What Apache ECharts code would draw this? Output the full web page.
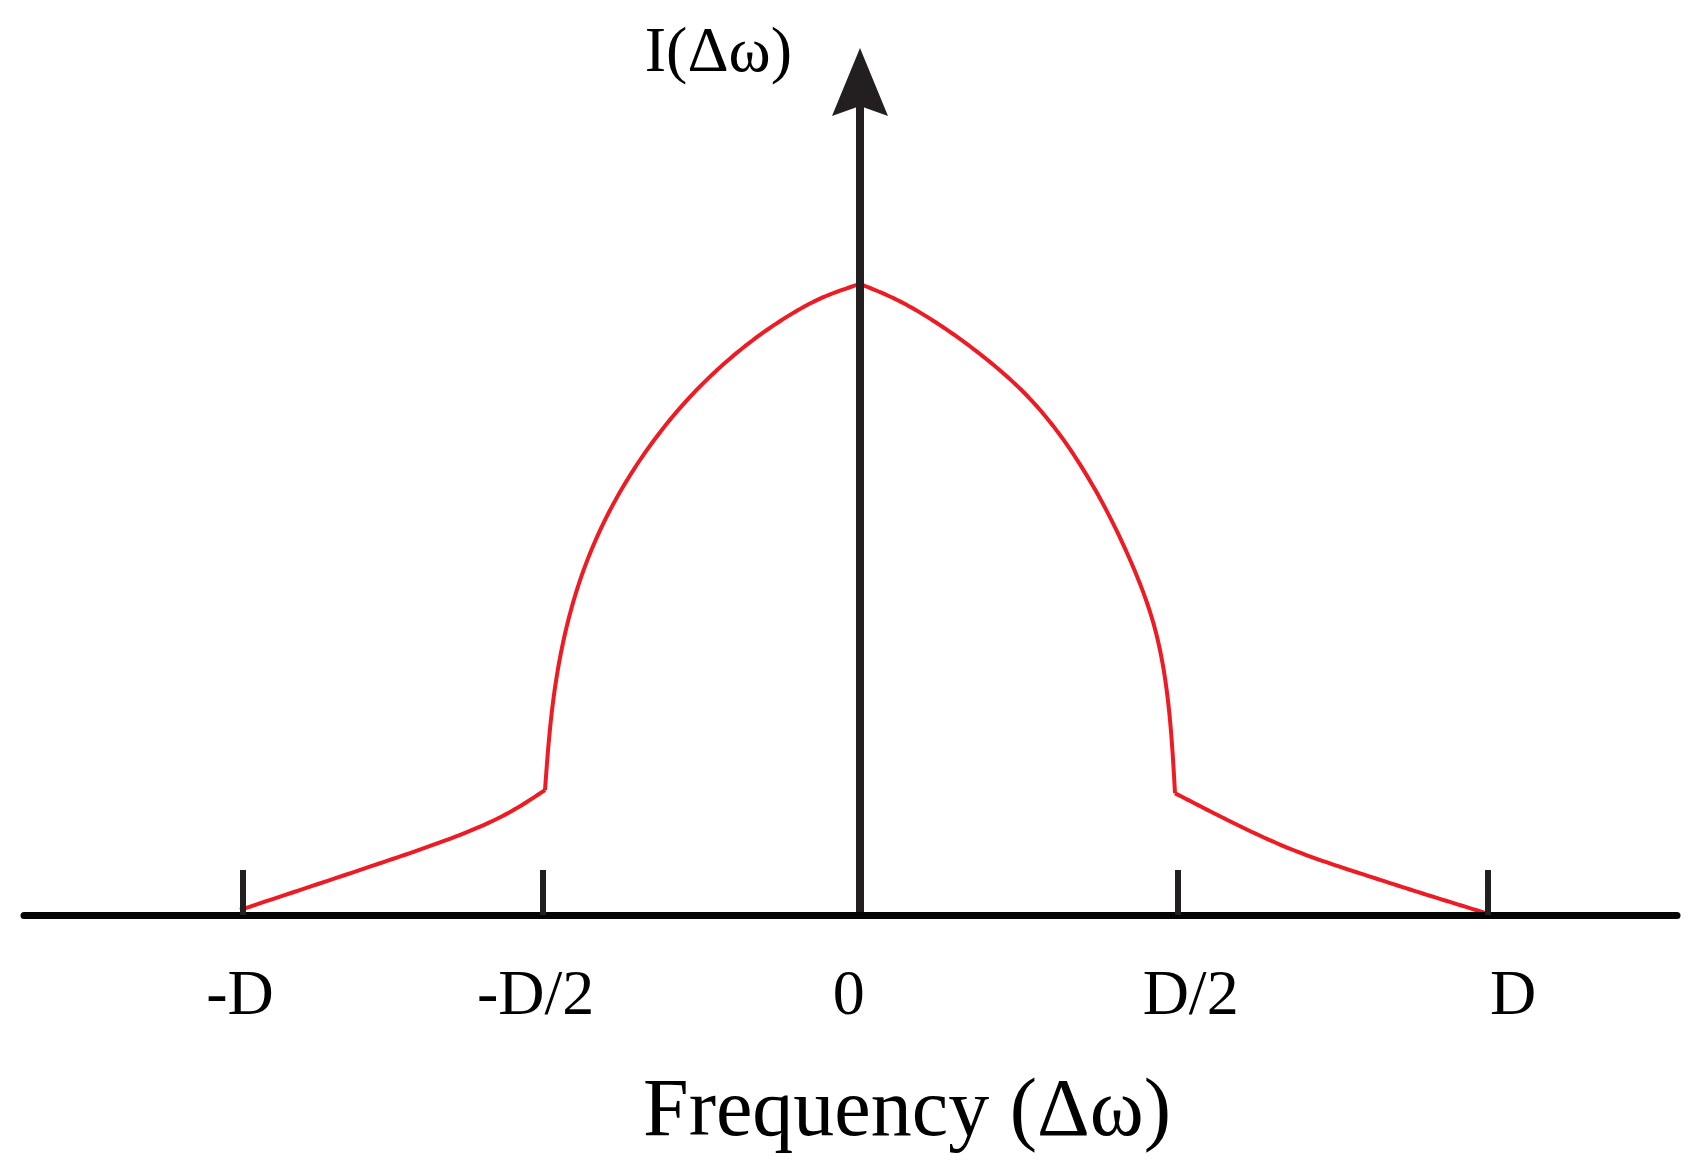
<!DOCTYPE html>
<html>
<head>
<meta charset="utf-8">
<script src="https://cdn.jsdelivr.net/npm/echarts@6/dist/echarts.min.js"></script>
<style>
html,body{margin:0;padding:0;background:#ffffff;}
#chart{width:1699px;height:1176px;}
</style>
</head>
<body>
<div id="chart"></div>
<script>
// Frequency offset (units of D) and intensity (peak = 1).
// The curve has four pieces with sharp corners between them.
const leftTailX  = [-0.992, -0.768, -0.661, -0.555, -0.504];
const leftTailY  = [ 0.008,  0.082,  0.119,  0.166,  0.198];
const leftDomeX  = [-0.504, -0.4933, -0.4693, -0.432, -0.352, -0.272, -0.192, -0.112, -0.0587, 0];
const leftDomeY  = [ 0.198,  0.320,   0.457,   0.573,  0.721,  0.821,  0.895,  0.951,  0.979,  1.000];
const rightDomeX = [0, 0.0587, 0.112, 0.192, 0.272, 0.352, 0.432, 0.4693, 0.4933, 0.504];
const rightDomeY = [1.000, 0.975, 0.945, 0.889, 0.818, 0.714, 0.563, 0.463, 0.335, 0.193];
const rightTailX = [0.504, 0.587, 0.693, 0.800, 0.907, 1.005];
const rightTailY = [0.193, 0.151, 0.103, 0.066, 0.032, 0.002];

// Tick marks on the frequency axis (-D, -D/2, D/2, D)
const tickValues = [-0.987, -0.507, 0.509, 1.005];
// Tick label positions and texts
const labelValues = [-0.992, -0.519, -0.018, 0.529, 1.045];
const labelTexts = ['-D', '-D/2', '0', 'D/2', 'D'];
// Axis extents
const xRange = [-1.3376, 1.3072];
const yRange = [0, 1.32];
const xTitle = 'Frequency (\u0394\u03c9)';
const yTitle = 'I(\u0394\u03c9)';

const serif = '"Liberation Serif", "Times New Roman", serif';
const zip = (xs, ys) => xs.map((x, i) => [x, ys[i]]);
const pieces = [
  zip(leftTailX, leftTailY),
  zip(leftDomeX, leftDomeY),
  zip(rightDomeX, rightDomeY),
  zip(rightTailX, rightTailY)
];

// Smooth drawing (natural parametric cubic spline) through the mapped pixel points
function naturalSpline(pts, samples) {
  const n = pts.length;
  if (n < 3) return pts;
  const t = [0];
  for (let i = 1; i < n; i++) {
    t.push(t[i - 1] + (Math.hypot(pts[i][0] - pts[i - 1][0], pts[i][1] - pts[i - 1][1]) || 1e-6));
  }
  const h = [];
  for (let i = 0; i < n - 1; i++) h.push(t[i + 1] - t[i]);
  const second = [0, 1].map(d => {
    const M = new Array(n).fill(0);
    const a = [], b = [], c = [], r = [];
    for (let i = 1; i < n - 1; i++) {
      a.push(h[i - 1]);
      b.push(2 * (h[i - 1] + h[i]));
      c.push(h[i]);
      r.push(6 * ((pts[i + 1][d] - pts[i][d]) / h[i] - (pts[i][d] - pts[i - 1][d]) / h[i - 1]));
    }
    const m = b.length;
    for (let i = 1; i < m; i++) {
      const w = a[i] / b[i - 1];
      b[i] -= w * c[i - 1];
      r[i] -= w * r[i - 1];
    }
    const sol = new Array(m);
    sol[m - 1] = r[m - 1] / b[m - 1];
    for (let i = m - 2; i >= 0; i--) sol[i] = (r[i] - c[i] * sol[i + 1]) / b[i];
    for (let i = 0; i < m; i++) M[i + 1] = sol[i];
    return M;
  });
  const out = [];
  for (let i = 0; i < n - 1; i++) {
    const hi = h[i];
    for (let k = 0; k < samples; k++) {
      const s = hi * k / samples;
      out.push([0, 1].map(d => {
        const M = second[d];
        const y0 = pts[i][d], y1 = pts[i + 1][d];
        return M[i] * Math.pow(hi - s, 3) / (6 * hi) + M[i + 1] * Math.pow(s, 3) / (6 * hi)
          + (y0 / hi - M[i] * hi / 6) * (hi - s) + (y1 / hi - M[i + 1] * hi / 6) * s;
      }));
    }
  }
  out.push(pts[n - 1].slice());
  return out;
}

const chart = echarts.init(document.getElementById('chart'), null, {renderer: 'canvas'});
chart.setOption({
  animation: false,
  backgroundColor: '#ffffff',
  grid: {left: 24, right: 22, top: 82, bottom: 261, containLabel: false, outerBoundsMode: 'none'},
  xAxis: {
    type: 'value',
    z: 5,
    min: xRange[0],
    max: xRange[1],
    splitLine: {show: false},
    axisLine: {show: true, onZero: true, lineStyle: {color: '#050505', width: 7}},
    axisTick: {show: true, inside: true, length: 45, customValues: tickValues,
      lineStyle: {color: '#231f20', width: 6}},
    axisLabel: {
      show: true, customValues: labelValues, margin: 50,
      fontFamily: serif, fontSize: 64, color: '#000000',
      formatter: function (v) {
        const i = labelValues.findIndex(l => Math.abs(l - v) < 1e-6);
        return i >= 0 ? labelTexts[i] : '';
      }
    },
    name: xTitle,
    nameLocation: 'middle',
    nameGap: 157,
    nameTextStyle: {fontFamily: serif, fontSize: 82, color: '#000000', padding: [0, 0, 0, 113]}
  },
  yAxis: {
    type: 'value',
    z: 5,
    min: yRange[0],
    max: yRange[1],
    splitLine: {show: false},
    axisTick: {show: false},
    axisLabel: {show: false},
    axisLine: {
      show: true, onZero: true,
      symbol: ['none', 'path://M28,0 L56,68 L28,58 L0,68 Z'],
      symbolSize: [56, 68],
      lineStyle: {color: '#231f20', width: 8}
    },
    name: yTitle,
    nameLocation: 'end',
    nameGap: -4,
    nameTextStyle: {fontFamily: serif, fontSize: 64, color: '#000000', align: 'right', padding: [0, 68, 0, 0]}
  },
  series: [{
    type: 'custom',
    coordinateSystem: 'cartesian2d',
    data: [[0, 0]],
    z: 1,
    silent: true,
    renderItem: function (params, api) {
      return {
        type: 'group',
        children: pieces.map(p => ({
          type: 'polyline',
          silent: true,
          shape: {points: naturalSpline(p.map(v => api.coord(v)), 16)},
          style: {stroke: '#ed1c24', lineWidth: 4, fill: 'none', lineJoin: 'round'}
        }))
      };
    }
  }]
});
</script>
</body>
</html>
